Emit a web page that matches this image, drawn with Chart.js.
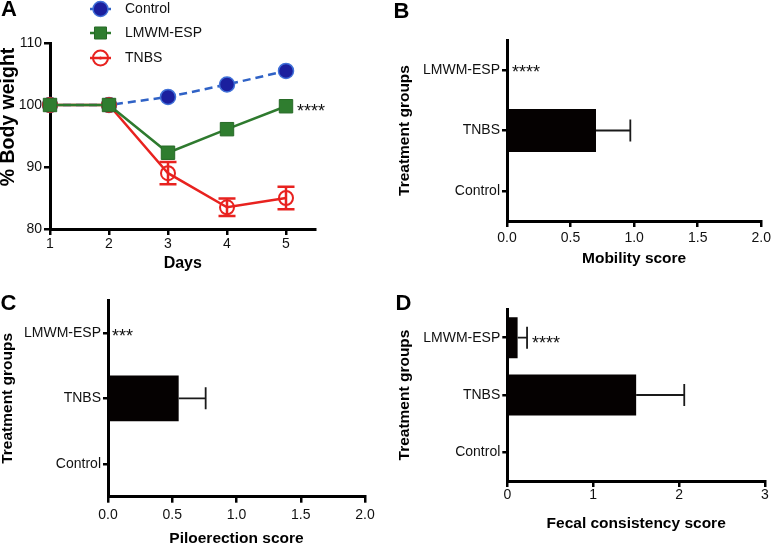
<!DOCTYPE html>
<html><head><meta charset="utf-8">
<script src="https://cdn.jsdelivr.net/npm/chart.js@4.4.0/dist/chart.umd.min.js"></script>
<style>
html,body{margin:0;padding:0;background:#fff;overflow:hidden;width:774px;height:544px;position:relative;}
canvas{position:absolute;display:block;}
</style></head><body>
<canvas id="cA" style="left:0;top:0" width="390" height="280"></canvas>
<canvas id="cB" style="left:390px;top:0" width="384" height="280"></canvas>
<canvas id="cC" style="left:0;top:280px" width="390" height="280"></canvas>
<canvas id="cD" style="left:390px;top:280px" width="384" height="280"></canvas>
<script>
// ---- Panel A data ----
const days = [1, 2, 3, 4, 5];
const controlWeight = [100, 100, 101.3, 103.3, 105.5];
const lmwmWeight = [100, 100, 92.3, 96.1, 99.8];
const tnbsWeight = [100, 100, 89.0, 83.5, 85.0];
const tnbsWeightErr = [0, 0, 1.8, 1.4, 1.8];
const weightTicks = [80, 90, 100, 110];

// ---- Panels B-D data ----
const groups = ['LMWM-ESP', 'TNBS', 'Control'];
const mobility = [0, 0.70, 0];
const mobilityErr = [0, 0.27, 0];
const piloerection = [0, 0.55, 0];
const piloerectionErr = [0, 0.21, 0];
const fecal = [0.12, 1.50, 0];
const fecalErr = [0.11, 0.56, 0];

const FONT = "'Liberation Sans', Arial, sans-serif";
Chart.defaults.font.family = FONT;
Chart.defaults.font.size = 14;
Chart.defaults.color = '#111';

const border = {display: true, color: '#000', width: 3};
function grid(len) {
  return {display: true, drawOnChartArea: false, drawTicks: true, tickLength: len, color: '#000', lineWidth: 2.5, offset: false};
}

function drawLetter(ctx, letter, x, y) {
  ctx.save();
  ctx.font = 'bold 22px ' + FONT;
  ctx.fillStyle = '#000';
  ctx.textAlign = 'center';
  ctx.textBaseline = 'middle';
  ctx.fillText(letter, x, y);
  ctx.restore();
}
function drawStars(ctx, txt, x, y, dy) {
  ctx.save();
  ctx.font = '18px ' + FONT;
  ctx.fillStyle = '#111';
  ctx.textAlign = 'left';
  ctx.textBaseline = 'alphabetic';
  ctx.fillText(txt, x, y + 10.3 + (dy || 0));
  ctx.restore();
}

// ---- Panel A ----
new Chart(document.getElementById('cA'), {
  type: 'line',
  data: {
    datasets: [
      {label: 'Control', data: days.map((d, i) => ({x: d, y: controlWeight[i]})),
        borderColor: '#2f62c6', borderWidth: 2.5, borderDash: [8, 5], pointStyle: 'circle', pointRadius: 7.5,
        pointBackgroundColor: '#1b1f9e', pointBorderColor: '#4070d8', pointBorderWidth: 1.5, order: 3, clip: false, tension: 0},
      {label: 'LMWM-ESP', data: days.map((d, i) => ({x: d, y: lmwmWeight[i]})),
        borderColor: '#2e7a2e', borderWidth: 2.5, pointStyle: 'rect', pointRadius: 9.5,
        pointBackgroundColor: '#2f7d2f', pointBorderColor: '#276a27', pointBorderWidth: 1, order: 1, clip: false, tension: 0},
      {label: 'TNBS', data: days.map((d, i) => ({x: d, y: tnbsWeight[i]})),
        borderColor: '#e8221f', borderWidth: 2.5, pointStyle: 'circle', pointRadius: 7,
        pointBackgroundColor: 'rgba(0,0,0,0)', pointBorderColor: '#e8221f', pointBorderWidth: 2, order: 2, clip: false, tension: 0}
    ]
  },
  options: {
    responsive: false, animation: false,
    layout: {padding: {top: 43, right: 74.5, left: 0, bottom: 0}},
    plugins: {legend: {display: false}, tooltip: {enabled: false}},
    scales: {
      x: {type: 'linear', min: 1, max: 5.5, border, grid: grid(6),
        afterBuildTicks: s => { s.ticks = days.map(v => ({value: v})); },
        ticks: {padding: 1, color: '#111'},
        title: {display: true, text: 'Days', color: '#000', font: {size: 16, weight: 'bold', lineHeight: 1}, padding: {top: 0, bottom: 8}},
        afterFit: s => { s.height = 51; }},
      y: {type: 'linear', min: 80, max: 110, border, grid: grid(6),
        afterBuildTicks: s => { s.ticks = weightTicks.map(v => ({value: v})); },
        ticks: {padding: 2, color: '#111'},
        title: {display: false, text: '% Body weight'},
        afterFit: s => { s.width = 50; }}
    }
  },
  plugins: [{
    id: 'extrasA',
    afterDatasetsDraw(chart) {
      const ctx = chart.ctx, xs = chart.scales.x, ys = chart.scales.y;
      ctx.save();
      ctx.strokeStyle = '#e8221f';
      ctx.lineWidth = 2.5;
      days.forEach((d, i) => {
        const e = tnbsWeightErr[i];
        if (!e) return;
        const x = xs.getPixelForValue(d);
        const y1 = ys.getPixelForValue(tnbsWeight[i] + e);
        const y2 = ys.getPixelForValue(tnbsWeight[i] - e);
        ctx.beginPath();
        ctx.moveTo(x, y1); ctx.lineTo(x, y2);
        ctx.moveTo(x - 8.5, y1); ctx.lineTo(x + 8.5, y1);
        ctx.moveTo(x - 8.5, y2); ctx.lineTo(x + 8.5, y2);
        ctx.stroke();
      });
      ctx.restore();
      drawStars(ctx, '****', xs.getPixelForValue(days[4]) + 11, ys.getPixelForValue(lmwmWeight[4]));
    },
    afterDraw(chart) {
      const ctx = chart.ctx;
      drawLetter(ctx, 'A', 9, 10);
      // y-axis title
      ctx.save();
      ctx.translate(8.5, 117);
      ctx.rotate(-Math.PI / 2);
      ctx.font = 'bold 19.5px ' + FONT;
      ctx.fillStyle = '#000';
      ctx.textAlign = 'center';
      ctx.textBaseline = 'middle';
      ctx.fillText(chart.options.scales.y.title.text, 0, 0);
      ctx.restore();
      const rows = [9, 33, 58];
      chart.data.datasets.forEach((ds, i) => {
        const y = rows[i];
        ctx.save();
        ctx.strokeStyle = ds.borderColor;
        ctx.lineWidth = 2.5;
        ctx.beginPath(); ctx.moveTo(90, y); ctx.lineTo(111, y); ctx.stroke();
        ctx.fillStyle = ds.pointBackgroundColor;
        ctx.strokeStyle = ds.pointBorderColor;
        ctx.lineWidth = ds.pointBorderWidth;
        Chart.helpers.drawPoint(ctx, {pointStyle: ds.pointStyle, radius: ds.pointStyle === 'rect' ? 8.5 : 7.5, rotation: 0, borderWidth: ds.pointBorderWidth}, 100.5, y);
        if (ds.label === 'TNBS') { ctx.fillStyle = ds.borderColor; ctx.beginPath(); ctx.arc(100.5, y, 1.5, 0, Math.PI * 2); ctx.fill(); }
        ctx.font = '14px ' + FONT;
        ctx.fillStyle = '#111';
        ctx.textAlign = 'left';
        ctx.textBaseline = 'middle';
        ctx.fillText(ds.label, 125, y);
        ctx.restore();
      });
    }
  }]
});

// ---- Bar panels ----
function barPanel(c) {
  new Chart(document.getElementById(c.id), {
    type: 'bar',
    data: {labels: groups, datasets: [{data: c.values, backgroundColor: '#050101', borderWidth: 0, barPercentage: c.barPct, categoryPercentage: 1}]},
    options: {
      responsive: false, animation: false, indexAxis: 'y',
      layout: {padding: {top: c.padTop, right: c.padRight, left: 0, bottom: 0}},
      plugins: {legend: {display: false}, tooltip: {enabled: false}},
      scales: {
        x: {type: 'linear', min: 0, max: c.max, border, grid: grid(6),
          ticks: {stepSize: c.step, padding: c.xTickPad, color: '#111', callback: v => Number(v).toFixed(c.dec)},
          title: {display: true, text: c.xTitle, color: '#000', font: {size: 15.5, weight: 'bold', lineHeight: 1}, padding: {top: 0, bottom: c.xTitlePad}},
          afterFit: s => { s.height = c.xH; }},
        y: {type: 'category', offset: true, border, grid: grid(5),
          ticks: {padding: 2, color: '#111'},
          title: {display: true, text: 'Treatment groups', color: '#000', font: {size: 15.5, weight: 'bold', lineHeight: 1}, padding: {top: c.yTitlePad, bottom: 0}},
          afterFit: s => { s.width = c.yW; }}
      }
    },
    plugins: [{
      id: 'extras' + c.id,
      afterDatasetsDraw(chart) {
        const ctx = chart.ctx, xs = chart.scales.x, ys = chart.scales.y;
        ctx.save();
        ctx.strokeStyle = '#1a1a1a';
        ctx.lineWidth = 1.8;
        c.values.forEach((v, i) => {
          const e = c.errs[i];
          if (!e) return;
          const x1 = xs.getPixelForValue(v), x2 = xs.getPixelForValue(v + e), y = ys.getPixelForValue(i);
          ctx.beginPath();
          ctx.moveTo(x1, y); ctx.lineTo(x2, y);
          ctx.moveTo(x2, y - 11); ctx.lineTo(x2, y + 11);
          ctx.stroke();
        });
        ctx.restore();
        drawStars(ctx, c.stars, xs.getPixelForValue(c.values[0] + c.errs[0]) + c.starOff, ys.getPixelForValue(0), c.starDy);
      },
      afterDraw(chart) { drawLetter(chart.ctx, c.letter, c.lx, c.ly); }
    }]
  });
}

barPanel({id: 'cB', values: mobility, errs: mobilityErr, max: 2, step: 0.5, dec: 1, xTitle: 'Mobility score',
  letter: 'B', lx: 11.5, ly: 11.5, yW: 117, xH: 59, padTop: 40, padRight: 8.3, xTickPad: 3, xTitlePad: 14, yTitlePad: 7,
  stars: '****', starOff: 5, starDy: -2, barPct: 0.71});
barPanel({id: 'cC', values: piloerection, errs: piloerectionErr, max: 2, step: 0.5, dec: 1, xTitle: 'Piloerection score',
  letter: 'C', lx: 8.5, ly: 23.5, yW: 108, xH: 63.3, padTop: 20, padRight: 25, xTickPad: 4.5, xTitlePad: 14, yTitlePad: 0,
  stars: '***', starOff: 4, starDy: -1, barPct: 0.70});
barPanel({id: 'cD', values: fecal, errs: fecalErr, max: 3, step: 1, dec: 0, xTitle: 'Fecal consistency score',
  letter: 'D', lx: 13.5, ly: 23.5, yW: 117.3, xH: 79, padTop: 29, padRight: 9, xTickPad: 0, xTitlePad: 28.7, yTitlePad: 7,
  stars: '****', starOff: 5, starDy: 1, barPct: 0.715});
</script>
</body></html>
